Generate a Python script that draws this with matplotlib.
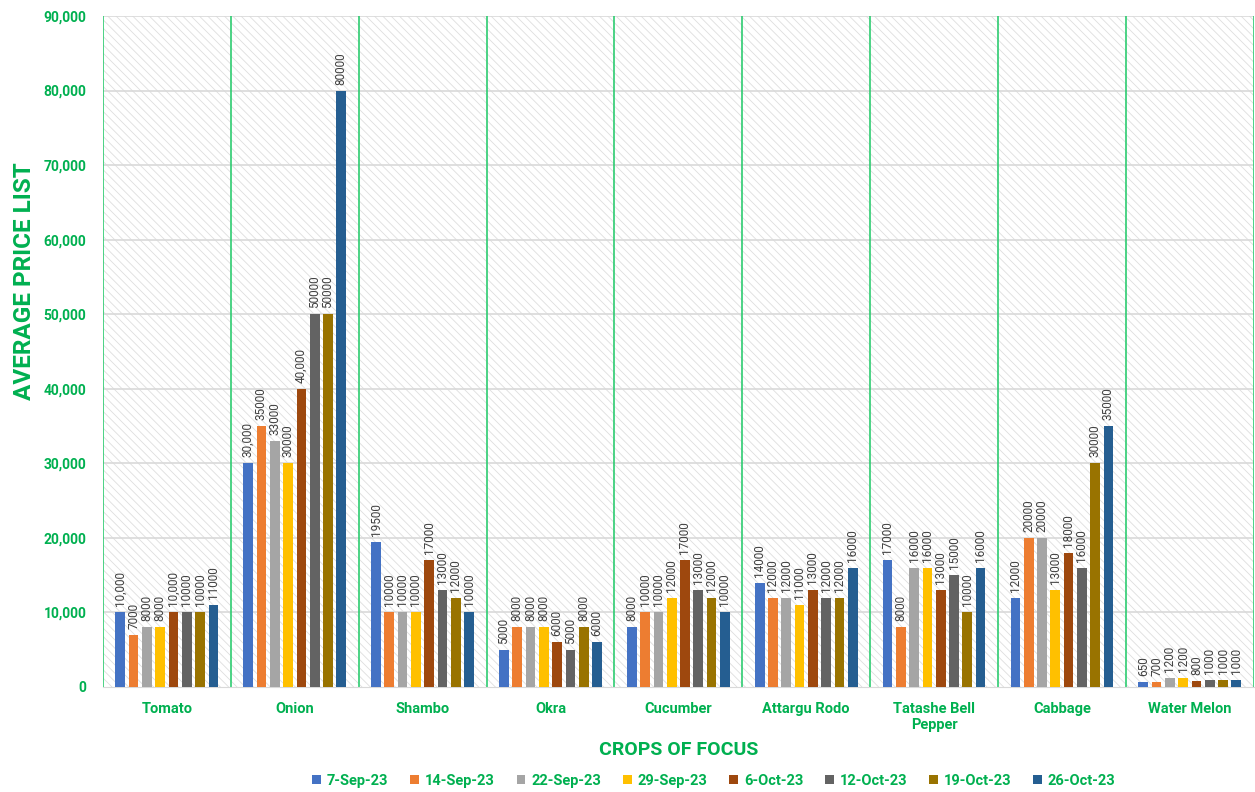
import numpy as np
import matplotlib.pyplot as plt
from matplotlib.patches import Rectangle

plt.rcParams['font.family'] = ['Roboto', 'DejaVu Sans']
plt.rcParams['hatch.linewidth'] = 0.6

crops = ["Tomato", "Onion", "Shambo", "Okra", "Cucumber", "Attargu Rodo",
         "Tatashe Bell\nPepper", "Cabbage", "Water Melon"]
dates = ["7-Sep-23", "14-Sep-23", "22-Sep-23", "29-Sep-23",
         "6-Oct-23", "12-Oct-23", "19-Oct-23", "26-Oct-23"]

# one list per date, values in crop order
sep07 = [10000, 30000, 19500, 5000, 8000, 14000, 17000, 12000, 650]
sep14 = [7000, 35000, 10000, 8000, 10000, 12000, 8000, 20000, 700]
sep22 = [8000, 33000, 10000, 8000, 10000, 12000, 16000, 20000, 1200]
sep29 = [8000, 30000, 10000, 8000, 12000, 11000, 16000, 13000, 1200]
oct06 = [10000, 40000, 17000, 6000, 17000, 13000, 13000, 18000, 800]
oct12 = [10000, 50000, 13000, 5000, 13000, 12000, 15000, 16000, 1000]
oct19 = [10000, 50000, 12000, 8000, 12000, 12000, 10000, 30000, 1000]
oct26 = [11000, 80000, 10000, 6000, 10000, 16000, 16000, 35000, 1000]
series = [sep07, sep14, sep22, sep29, oct06, oct12, oct19, oct26]

# labels that were typed with a thousands separator in the source sheet
comma_labels = {(0, 0), (0, 1), (4, 0), (4, 1)}  # (series, crop)

colors = ["#4472C4", "#ED7D31", "#A5A5A5", "#FFC000",
          "#9E480E", "#636363", "#997300", "#255E91"]
green = "#00B050"

fig = plt.figure(figsize=(12.55, 7.92), dpi=100)
ax = fig.add_axes([0.082, 0.1326, 0.917, 0.8472])

x = np.arange(len(crops))
pitch = 0.104
width = 0.076

# hatched plot background
ax.add_patch(Rectangle((0, 0), 1, 1, transform=ax.transAxes, facecolor="white",
                       hatch="\\\\\\\\", edgecolor="#DEDEDE", linewidth=0, zorder=0))
for v in range(10000, 90001, 10000):
    ax.axhline(v, color="#D9D9D9", linewidth=1.2, zorder=1)
for b in np.arange(-0.5, len(crops), 1.0):
    ax.axvline(b, color="#2ECC71", linewidth=1.2, zorder=1)

for i, (vals, c) in enumerate(zip(series, colors)):
    pos = x + (i - 3.5) * pitch
    ax.bar(pos, vals, width=width, color=c, label=dates[i], zorder=3)
    for j, (p, v) in enumerate(zip(pos, vals)):
        txt = f"{v:,}" if (i, j) in comma_labels else str(v)
        ax.text(p, v + 800, txt, rotation=90, ha="center", va="bottom",
                fontsize=8.5, color="#404040", zorder=4)

ax.set_xlim(-0.5, len(crops) - 0.5)
ax.set_ylim(0, 90000)
ax.set_yticks(range(0, 90001, 10000))
ax.set_yticklabels([f"{v:,}" for v in range(0, 90001, 10000)],
                   color=green, fontweight="bold", fontsize=10)
ax.set_xticks(x)
ax.set_xticklabels(crops, color=green, fontweight="bold", fontsize=10.5)
ax.tick_params(axis="y", length=0, pad=12)
ax.tick_params(axis="x", length=0, pad=11)
for s in ["top", "right", "left"]:
    ax.spines[s].set_visible(False)
ax.spines["bottom"].set_color("#D9D9D9")

ax.set_ylabel("AVERAGE PRICE LIST", color=green, fontweight="bold", fontsize=17.5)
ax.yaxis.set_label_coords(-0.058, 0.605)
ax.set_xlabel("CROPS OF FOCUS", color=green, fontweight="bold",
              fontsize=14, labelpad=6)

leg = ax.legend(loc="center", bbox_to_anchor=(0.531, -0.14), ncol=8,
                frameon=False, fontsize=10.5, handlelength=0.6, handleheight=0.6,
                handletextpad=0.4, columnspacing=1.5)
for t in leg.get_texts():
    t.set_color(green)
    t.set_fontweight("bold")

fig.savefig("out.png", dpi=100)
